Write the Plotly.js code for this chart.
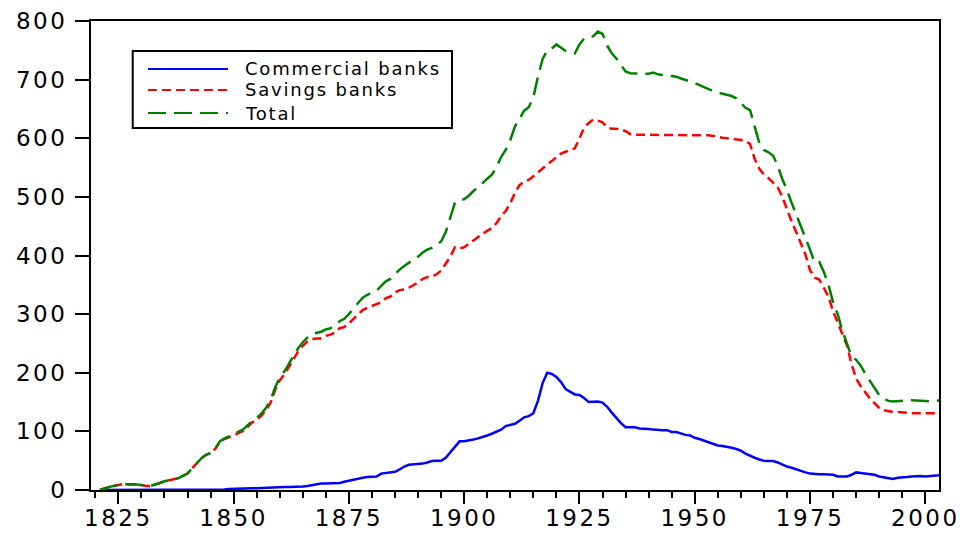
<!DOCTYPE html>
<html>
<head>
<meta charset="utf-8">
<script src="https://cdn.plot.ly/plotly-3.0.1.min.js"></script>
<style>
  html, body { margin: 0; padding: 0; background: #ffffff; }
  #chart { width: 968px; height: 533px; }
  .xtick text, .ytick text { letter-spacing: 2.5px; }
  .annotation-text { letter-spacing: 1.8px; }
</style>
</head>
<body>
<div id="chart"></div>
<script>
const firstYear = 1821;

const commercial = [
  0,0,0,0,0,0,0,0,0,0,
  0,0,0,0,0,0,0,0,0,0,
  0,0,0,0,0,0,0,1,1.5,2,
  2,2.5,2.5,3,3,3.5,4,4.5,4.5,5,
  5,5,5,5.5,6,7,8.5,10,11,11,
  11,11.5,12,14,16,18,20,21,22,22.5,
  23,28,29,30,31,35,40,43,43.5,44,
  45,47,49.5,50,50,55,65,74,83,83,
  84,86,88,90,93,96,100,103,109,111,
  113,118,124,126,131,152,182,200,198,193,
  184,172,168,163,162,157,150,151,151,149,
  142,132,123,114,107,107,107,105,105,104,
  103,102,102,102,99,99,96,94,93,89,
  87,84,81,78,76,75,74,72,70,67,
  62,58,55,52,50,49.5,49.5,47,43,40,
  38,35,33,30,28,27,27,27,27,26,
  23,23,23,26,30,29,28,28,26,23,
  22,20,19,21,21,22,23,24,24,23,
  24,24,25
];

const savings = [
  0,3,5,7,9,10,10,10,9.5,8.5,
  7,7,9,12,15,17,19,20,24,28,
  37,45,54,60,63,70,82,87,89.5,93,
  97,100.5,107.5,115,120,126.5,136,148.5,170.5,187,
  197,210,224,236.5,246,253,257.5,258,259,263,
  265,268.5,276,278,284,292,300,307,311,314.5,
  317,320,327,330,337,341,342,345,349.5,354,
  360,363,363.5,368,374,385,398,414,412,414,
  420,426,432,437,442,447,455,467,476,489,
  507,520,526,529,535,542,548,555,561,567,
  574,577,580,583,600,618,626,632,630,627,
  619,616,616,615,612,607,606,606,606,606,
  606,606,606,606,606,606,606,606,606,606,
  606,606,605,604,602,601,600,599,599,598,
  596,590,565,548,538,532,524,516,500,478,
  458,440,420,402,375,362,359,345,330,305,
  285,265,247,215,190,177,166,156,148,140,
  136,134,133,133,132,132,131,131,131,131,
  131,131,131
];

const total = [
  0,3,5,7,9,10,10,10,9.5,8.5,
  7,7,9,12,15,17,19,20,24,28,
  37,45,54,60,63,70,83,88,91,95,
  99,103,110,118,123,130,140,153,175,192,
  202,215,229,242,252,260,266,268,270,274,
  276,280,288,292,300,310,320,328,333,337,
  340,348,356,360,368,376,382,388,393,398,
  405,410,413,418,424,440,464,490,495,496,
  502,510,516,524,531,538,550,568,580,597,
  620,633,647,653,670,705,735,750,753,760,
  755,749,747,745,760,770,772,774,782,778,
  758,745,736,726,714,711,711,711,710,710,
  712,709,708,708,706,705,702,700,697,694,
  691,688,684,680,678,675,673,672,668,660,
  652,648,620,592,580,576,570,553,530,512,
  490,470,452,430,410,388,389,372,350,320,
  300,272,248,228,222,212,198,186,172,162,
  156,152,151,152,152,153,153,153,152,152,
  151,151,153
];

const years = commercial.map((_, i) => firstYear + i);

const seriesNames = ['Commercial banks', 'Savings banks', 'Total'];
const seriesColors = ['#0000ff', '#ff0000', '#008000'];
const seriesDash = ['solid', '9px,5px', '18px,8px'];
const seriesValues = [commercial, savings, total];

const yTicks = [0, 100, 200, 300, 400, 500, 600, 700, 800];
const xTicks = [1825, 1850, 1875, 1900, 1925, 1950, 1975, 2000];

const traces = seriesValues.map((vals, k) => ({
  x: years,
  y: vals,
  type: 'scatter',
  mode: 'lines',
  name: seriesNames[k],
  line: { color: seriesColors[k], width: 2.5, dash: seriesDash[k] },
  showlegend: false,
  hoverinfo: 'skip'
}));

// custom legend (box, sample lines, labels) in paper coordinates
const legendRowsY = [0.8977, 0.8529, 0.8038];
const shapes = [{
  type: 'rect', xref: 'paper', yref: 'paper',
  x0: 0.0492, x1: 0.4257, y0: 0.7719, y1: 0.936,
  line: { color: '#000000', width: 2 }, fillcolor: '#ffffff', layer: 'above'
}];
const annotations = [];
seriesNames.forEach((nm, k) => {
  shapes.push({
    type: 'line', xref: 'paper', yref: 'paper',
    x0: 0.0672, x1: 0.1616, y0: legendRowsY[k], y1: legendRowsY[k],
    line: { color: seriesColors[k], width: 2, dash: seriesDash[k] }, layer: 'above'
  });
  annotations.push({
    xref: 'paper', yref: 'paper', x: 0.1792, y: legendRowsY[k],
    xanchor: 'left', yanchor: 'middle', showarrow: false, text: nm,
    font: { family: 'DejaVu Sans', size: 18, color: '#000000' }
  });
});

const layout = {
  width: 968, height: 533,
  margin: { l: 91, r: 29, t: 21, b: 43, pad: 0 },
  paper_bgcolor: '#ffffff', plot_bgcolor: '#ffffff',
  showlegend: false,
  font: { family: 'DejaVu Sans', color: '#000000' },
  xaxis: {
    range: [1819.07, 2002.97],
    tickmode: 'array', tickvals: xTicks, ticktext: xTicks.map(String),
    ticks: 'outside', ticklen: 12, tickwidth: 2, tickcolor: '#000000',
    minor: { dtick: 5, tick0: 1820, ticks: 'outside', ticklen: 6, tickwidth: 2, tickcolor: '#000000' },
    showline: true, linecolor: '#000000', linewidth: 2, mirror: true,
    showgrid: false, zeroline: false,
    tickfont: { family: 'DejaVu Sans', size: 23, color: '#000000' },
    ticklabelstandoff: -6
  },
  yaxis: {
    range: [0, 800],
    tickmode: 'array', tickvals: yTicks, ticktext: yTicks.map(String),
    ticks: 'outside', ticklen: 14, tickwidth: 2, tickcolor: '#000000',
    showline: true, linecolor: '#000000', linewidth: 2, mirror: true,
    showgrid: false, zeroline: false,
    tickfont: { family: 'DejaVu Sans', size: 23, color: '#000000' },
    ticklabelstandoff: 3
  },
  shapes: shapes,
  annotations: annotations
};

Plotly.newPlot('chart', traces, layout, { displayModeBar: false, staticPlot: true });
</script>
</body>
</html>
